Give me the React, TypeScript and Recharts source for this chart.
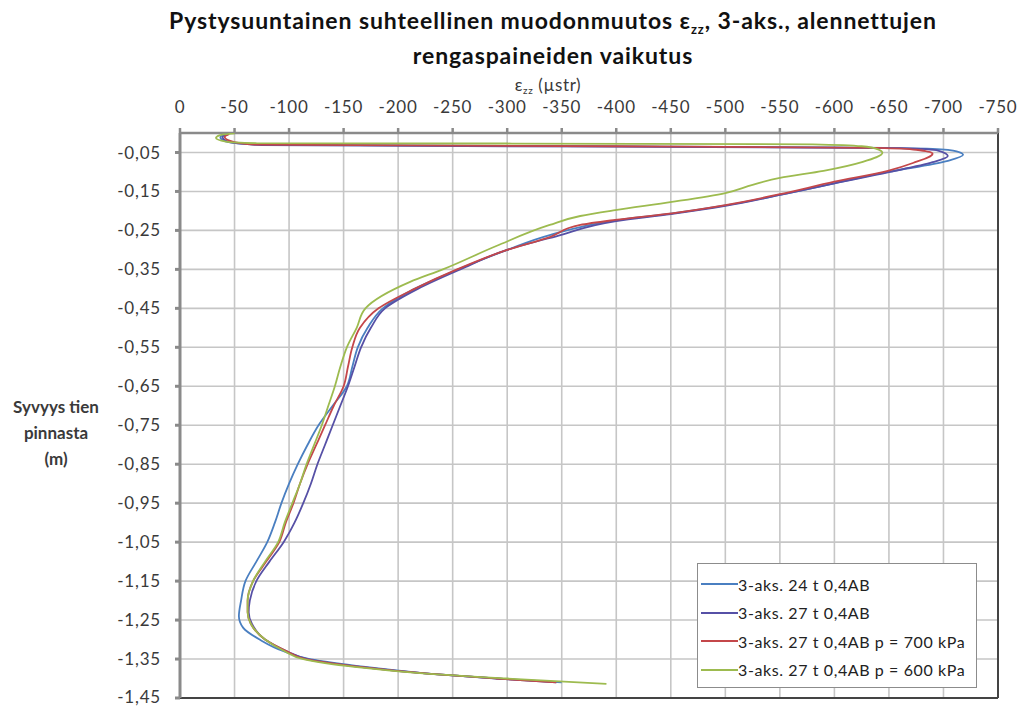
import React from 'react';
import {
  ScatterChart,
  Scatter,
  XAxis,
  YAxis,
  CartesianGrid,
  ReferenceLine,
} from 'recharts';

// strain (µstr) vs depth (m)
const BLUE_24T: [number, number][] = [
  [-45, -0.002], [-37, -0.01], [-40, -0.02], [-70, -0.03], [-300, -0.033], [-600, -0.037],
  [-690, -0.041], [-712, -0.047], [-718, -0.056], [-703, -0.072], [-649, -0.1], [-600, -0.129],
  [-550, -0.159], [-500, -0.186], [-450, -0.207], [-400, -0.224], [-339, -0.262], [-300, -0.3],
  [-255, -0.35], [-215, -0.4], [-186, -0.45], [-172, -0.5], [-163, -0.55], [-158, -0.6],
  [-153, -0.65], [-140, -0.7], [-127, -0.75], [-117, -0.8], [-108, -0.85], [-100, -0.9],
  [-93, -0.95], [-87, -1.0], [-80, -1.05], [-70, -1.1], [-60, -1.15], [-56, -1.2],
  [-54, -1.24], [-58, -1.27], [-73, -1.3], [-95, -1.33], [-119, -1.35], [-170, -1.37],
  [-240, -1.39], [-290, -1.4], [-350, -1.41],
];

const PURPLE_27T: [number, number][] = [
  [-44, -0.003], [-39, -0.01], [-43, -0.021], [-75, -0.031], [-400, -0.035], [-660, -0.039],
  [-695, -0.045], [-704, -0.059], [-690, -0.075], [-649, -0.101], [-600, -0.129], [-550, -0.159],
  [-500, -0.187], [-450, -0.208], [-400, -0.226], [-345, -0.265], [-300, -0.3], [-257, -0.35],
  [-218, -0.4], [-188, -0.45], [-175, -0.5], [-166, -0.55], [-160, -0.6], [-154, -0.65],
  [-147, -0.7], [-140, -0.75], [-133, -0.8], [-126, -0.85], [-120, -0.9], [-113, -0.95],
  [-105, -1.0], [-95, -1.05], [-82, -1.1], [-70, -1.15], [-64, -1.2], [-63, -1.23],
  [-66, -1.26], [-78, -1.3], [-98, -1.33], [-117, -1.35], [-165, -1.37], [-230, -1.388],
  [-290, -1.4], [-345, -1.41],
];

const RED_700KPA: [number, number][] = [
  [-45, -0.003], [-41, -0.01], [-46, -0.02], [-70, -0.03], [-400, -0.034], [-640, -0.038],
  [-675, -0.043], [-690, -0.053], [-672, -0.077], [-649, -0.097], [-600, -0.125], [-550, -0.157],
  [-500, -0.185], [-451, -0.206], [-399, -0.223], [-367, -0.236], [-339, -0.267], [-300, -0.3],
  [-254, -0.35], [-215, -0.4], [-182, -0.45], [-165, -0.5], [-158, -0.55], [-154, -0.6],
  [-150, -0.65], [-141, -0.7], [-133, -0.75], [-125, -0.8], [-117, -0.85], [-110, -0.9],
  [-104, -0.95], [-97, -1.0], [-91, -1.05], [-79, -1.1], [-67, -1.15], [-62, -1.2],
  [-62, -1.23], [-65, -1.26], [-78, -1.3], [-98, -1.33], [-115, -1.35], [-165, -1.37],
  [-230, -1.388], [-290, -1.4], [-345, -1.41],
];

const GREEN_600KPA: [number, number][] = [
  [-50, -0.001], [-36, -0.006], [-33, -0.013], [-42, -0.022], [-70, -0.026], [-300, -0.027],
  [-580, -0.029], [-625, -0.034], [-640, -0.042], [-644, -0.051], [-626, -0.074], [-590, -0.097],
  [-550, -0.115], [-525, -0.133], [-500, -0.154], [-451, -0.177], [-399, -0.198], [-367, -0.213],
  [-339, -0.236], [-290, -0.29], [-241, -0.35], [-211, -0.382], [-170, -0.45], [-162, -0.5],
  [-153, -0.55], [-147, -0.6], [-142, -0.65], [-136, -0.7], [-130, -0.75], [-123, -0.8],
  [-116, -0.85], [-110, -0.9], [-103, -0.95], [-96, -1.0], [-90, -1.05], [-78, -1.1],
  [-67, -1.15], [-62, -1.2], [-62, -1.23], [-65, -1.26], [-78, -1.3], [-96, -1.33],
  [-113, -1.35], [-160, -1.37], [-220, -1.386], [-300, -1.4], [-391, -1.414],
];

const X_TICKS = [0, -50, -100, -150, -200, -250, -300, -350, -400, -450, -500, -550, -600, -650, -700, -750];
const Y_TICKS = [-0.05, -0.15, -0.25, -0.35, -0.45, -0.55, -0.65, -0.75, -0.85, -0.95, -1.05, -1.15, -1.25, -1.35, -1.45];

const SERIES = [
  { name: '3-aks. 24 t 0,4AB', color: '#4a7fc1', points: BLUE_24T },
  { name: '3-aks. 27 t 0,4AB', color: '#5650a6', points: PURPLE_27T },
  { name: '3-aks. 27 t 0,4AB p = 700 kPa', color: '#c4474a', points: RED_700KPA },
  { name: '3-aks. 27 t 0,4AB p = 600 kPa', color: '#9dbb4f', points: GREEN_600KPA },
];

const FONT = 'Lato, "Open Sans", sans-serif';
const TEXT = '#3a3a3a';

const noDot = () => <g />;

const sub = (size: number, drop: number) => ({ fontSize: size, lineHeight: 0, position: 'relative' as const, top: drop });

const line = (top: number, width: number, extra: React.CSSProperties): React.CSSProperties => ({
  position: 'absolute', left: 0, width, top, textAlign: 'center', whiteSpace: 'nowrap', ...extra,
});

const App: React.FC = () => {
  const titleStyle: React.CSSProperties = { fontWeight: 700, fontSize: 23, lineHeight: '28px', letterSpacing: 0.9, color: '#111' };
  return (
    <div style={{ position: 'absolute', left: 0, top: 0, width: 1026, height: 707, background: '#fff', fontFamily: FONT }}>
      <div style={line(6, 1106, titleStyle)}>
        Pystysuuntainen suhteellinen muodonmuutos ε<span style={sub(13, 5)}>zz</span>, 3-aks., alennettujen
      </div>
      <div style={line(41, 1106, titleStyle)}>rengaspaineiden vaikutus</div>
      <div style={line(75, 1096, { lineHeight: '20px', fontSize: 17, letterSpacing: 0.6, color: TEXT })}>
        ε<span style={sub(10, 3)}>zz</span> (µstr)
      </div>
      <div style={{ position: 'absolute', left: 0, width: 112, top: 394, textAlign: 'center', fontWeight: 700, fontSize: 17, lineHeight: '26px', color: TEXT }}>
        Syvyys tien
        <br />
        pinnasta
        <br />
        (m)
      </div>

      <ScatterChart width={1026} height={707} margin={{ top: 103, right: 28, bottom: 9, left: 100 }}>
        <CartesianGrid stroke="#c6c6c6" strokeWidth={1.6} />
        <XAxis
          type="number"
          dataKey="x"
          orientation="top"
          reversed
          domain={[-750, 0]}
          ticks={X_TICKS}
          allowDataOverflow
          height={30}
          tickSize={5}
          tickMargin={15}
          stroke="#8a8a8a"
          strokeWidth={2.5}
          tick={{ fill: TEXT, fontSize: 17, fontFamily: FONT, letterSpacing: 0.8 }}
        />
        <YAxis
          type="number"
          dataKey="y"
          domain={[-1.45, 0]}
          ticks={Y_TICKS}
          allowDataOverflow
          width={80}
          tickSize={5}
          tickMargin={14}
          stroke="#8a8a8a"
          strokeWidth={3}
          tickFormatter={(v: number) => v.toFixed(2).replace('.', ',')}
          tick={{ fill: TEXT, fontSize: 17, fontFamily: FONT, letterSpacing: 0.8 }}
        />
        <ReferenceLine x={-750} stroke="#444" strokeWidth={2} />
        <ReferenceLine y={-1.45} stroke="#444" strokeWidth={2} />
        {SERIES.map((s) => (
          <Scatter
            key={s.name}
            name={s.name}
            data={s.points.map(([x, y]) => ({ x, y }))}
            line={{ stroke: s.color, strokeWidth: 1.8 }}
            lineJointType="monotoneY"
            shape={noDot}
            fill={s.color}
            isAnimationActive={false}
          />
        ))}
      </ScatterChart>

      <div style={{ position: 'absolute', left: 697, top: 563, width: 278, height: 123, border: '1px solid #8c8c8c', background: '#fff', fontSize: 16, letterSpacing: 0.6, color: '#222' }}>
        {SERIES.map((s, i) => (
          <div key={s.name} style={{ position: 'absolute', left: 3, top: 9 + i * 28.5, display: 'flex', alignItems: 'center', height: 22, whiteSpace: 'nowrap' }}>
            <span style={{ display: 'inline-block', width: 37, height: 2, background: s.color }} />
            <span>{s.name}</span>
          </div>
        ))}
      </div>
    </div>
  );
};

export default App;
